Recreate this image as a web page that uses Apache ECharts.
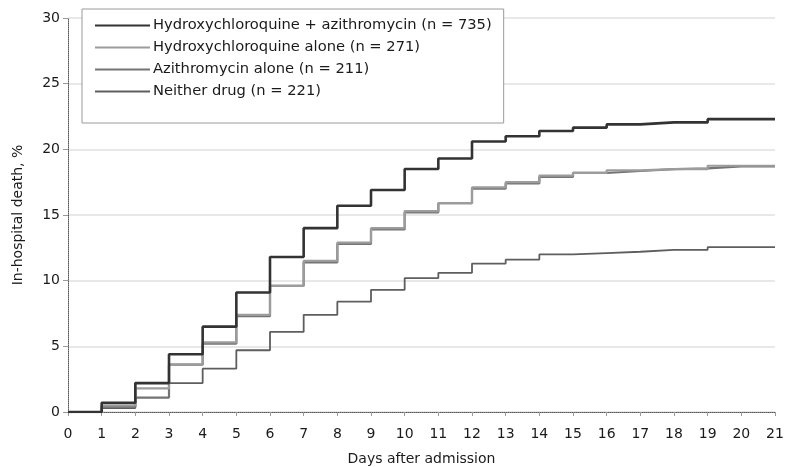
<!DOCTYPE html>
<html>
<head>
<meta charset="utf-8">
<script src="https://cdn.jsdelivr.net/npm/echarts@6/dist/echarts.min.js"></script>
<style>
  html, body { margin: 0; padding: 0; background: #fff; }
  #chart { width: 789px; height: 467px; }
</style>
</head>
<body>
<div id="chart"></div>
<script>
// Day boundaries (0..21); each value holds for the interval [day, day + 1)
const days = [0, 1, 2, 3, 4, 5, 6, 7, 8, 9, 10, 11, 12, 13, 14, 15, 16, 17, 18, 19, 20, 21];

// Cumulative in-hospital death, % per day interval
const hcqAzi   = [0, 0.7, 2.2, 4.4, 6.5, 9.1, 11.8, 14.0, 15.7, 16.9, 18.5, 19.3, 20.6, 21.0, 21.4, 21.65, 21.9, 22.05, 22.05, 22.3, 22.3];
const hcqAlone = [0, 0.5, 1.8, 3.6, 5.3, 7.4, 9.6, 11.5, 12.9, 14.0, 15.3, 15.9, 17.1, 17.5, 18.0, 18.2, 18.4, 18.5, 18.5, 18.75, 18.75];
const aziAlone = [0, 0.4, 1.1, 3.6, 5.2, 7.3, 9.6, 11.4, 12.8, 13.9, 15.2, 15.9, 17.0, 17.4, 17.9, 18.2, 18.35, 18.5, 18.55, 18.7, 18.7];
const neither  = [0, 0.3, 2.2, 2.2, 3.3, 4.7, 6.1, 7.4, 8.4, 9.3, 10.2, 10.6, 11.3, 11.6, 12.0, 12.1, 12.2, 12.35, 12.35, 12.55, 12.55];

const seriesNames = [
  'Hydroxychloroquine + azithromycin (n = 735)',
  'Hydroxychloroquine alone (n = 271)',
  'Azithromycin alone (n = 211)',
  'Neither drug (n = 221)'
];

const yTicks = [0, 5, 10, 15, 20, 25, 30];

// Pair each interval value with its start day, then close at day 21
function toSteps(values) {
  const pts = values.map((v, i) => [days[i], v]);
  pts.push([days[days.length - 1], values[values.length - 1]]);
  return pts;
}

const styles = [
  { color: '#333333', width: 2.6 },
  { color: '#9c9c9c', width: 2.2 },
  { color: '#747474', width: 2.2 },
  { color: '#5e5e5e', width: 1.8 }
];
const allValues = [hcqAzi, hcqAlone, aziAlone, neither];

const font = 'DejaVu Sans, Noto Sans, sans-serif';
const chart = echarts.init(document.getElementById('chart'));

chart.setOption({
  animation: false,
  backgroundColor: '#ffffff',
  grid: { left: 68, right: 14, top: 18, bottom: 55, containLabel: false, outerBoundsMode: 'none' },
  legend: {
    show: true,
    orient: 'vertical',
    left: 82,
    top: 9,
    padding: [9, 12, 24, 13],
    itemGap: 7,
    itemWidth: 55,
    itemHeight: 14,
    backgroundColor: '#ffffff',
    borderColor: '#9a9a9a',
    borderWidth: 1,
    borderRadius: 0,
    icon: 'path://M0,6 L55,6 L55,8 L0,8 Z',
    textStyle: { fontFamily: font, fontSize: 14.7, color: '#1a1a1a', padding: [0, 0, 0, -2] },
    data: seriesNames
  },
  xAxis: {
    type: 'value',
    min: 0,
    max: 21,
    interval: 1,
    name: 'Days after admission',
    nameLocation: 'middle',
    nameGap: 40,
    nameTextStyle: { fontFamily: font, fontSize: 14, color: '#1a1a1a' },
    axisLine: { show: true, lineStyle: { color: '#555', width: 1, type: 'dotted' } },
    axisTick: { show: true, length: 4, lineStyle: { color: '#999' } },
    axisLabel: { fontFamily: font, fontSize: 14, color: '#1a1a1a', margin: 15 },
    splitLine: { show: false }
  },
  yAxis: {
    type: 'value',
    min: yTicks[0],
    max: yTicks[yTicks.length - 1],
    interval: 5,
    name: 'In-hospital death, %',
    nameLocation: 'middle',
    nameGap: 43,
    nameRotate: 90,
    nameTextStyle: { fontFamily: font, fontSize: 14, color: '#1a1a1a' },
    axisLine: { show: true, lineStyle: { color: '#555', width: 1, type: 'dotted' } },
    axisTick: { show: true, length: 5, lineStyle: { color: '#999' } },
    axisLabel: { fontFamily: font, fontSize: 14, color: '#1a1a1a', margin: 8 },
    splitLine: { show: true, lineStyle: { color: '#e0e0e0', width: 1.5 } }
  },
  series: allValues.map((vals, i) => ({
    name: seriesNames[i],
    type: 'line',
    step: 'end',
    symbol: 'none',
    data: toSteps(vals),
    color: styles[i].color,
    lineStyle: { color: styles[i].color, width: styles[i].width },
    z: 10 - i
  }))
});
</script>
</body>
</html>
